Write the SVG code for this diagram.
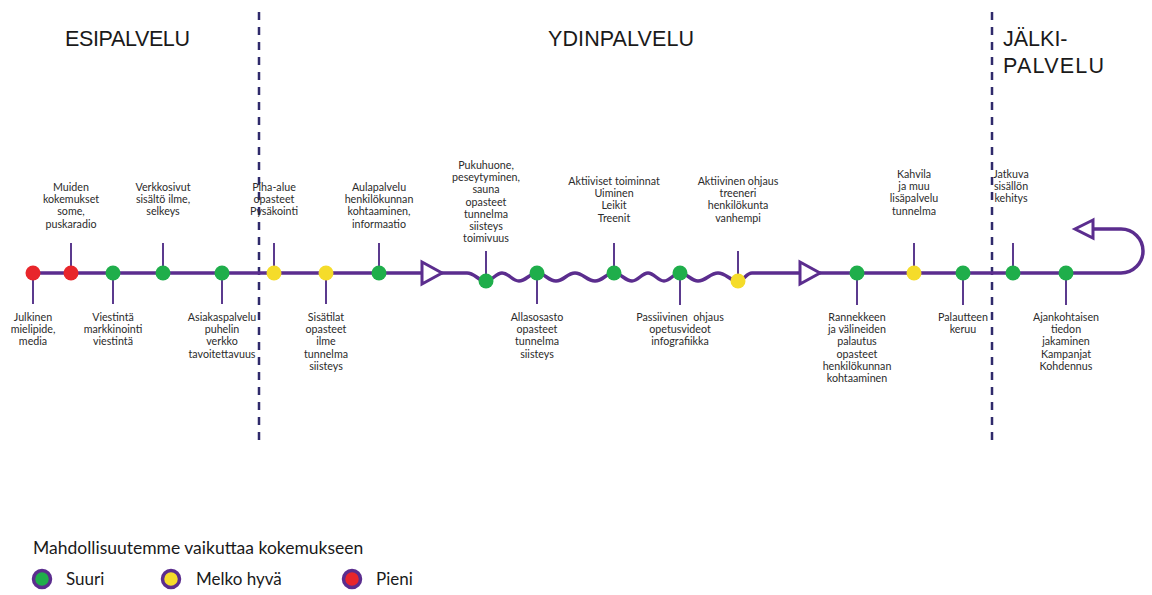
<svg xmlns="http://www.w3.org/2000/svg" width="1152" height="595" viewBox="0 0 1152 595">
  <defs>
    <style>
      .phase { font-family: "Liberation Sans", Arial, sans-serif; font-size: 21.5px; fill: #1a1a1a; }
      .lbl { font-family: Lato, "Noto Sans", "Liberation Sans", sans-serif; font-size: 10.7px; fill: #2b2b2b; text-anchor: middle; }
      .legend { font-family: Lato, "Noto Sans", "Liberation Sans", sans-serif; fill: #1a1a1a; }
      .divider { stroke: #2f2a6b; stroke-width: 2.5; stroke-dasharray: 8 7; fill: none; }
      .track { stroke: #5b2d8e; stroke-width: 3.5; fill: none; stroke-linejoin: round; }
      .tick { stroke: #5b3a8e; stroke-width: 2; }
      .head { stroke: #5b2d8e; stroke-width: 3; fill: #ffffff; stroke-linejoin: miter; }
      .g { fill: #1fae4b; }
      .y { fill: #f5dc2a; }
      .r { fill: #e8262b; }
      .key { stroke: #5b2d8e; stroke-width: 3.5; }
    </style>
  </defs>

  <rect width="1152" height="595" fill="#ffffff"/>

  <!-- phase dividers -->
  <line class="divider" x1="259" y1="12" x2="259" y2="440"/>
  <line class="divider" x1="992" y1="12" x2="992" y2="440"/>

  <!-- phase titles -->
  <text class="phase" x="65" y="46" textLength="125">ESIPALVELU</text>
  <text class="phase" x="548" y="46" textLength="146">YDINPALVELU</text>
  <text class="phase" x="1003" y="46">JÄLKI-</text>
  <text class="phase" x="1003" y="73" textLength="101">PALVELU</text>

  <!-- connectors: timeline track, direction arrows and ticks -->
  <g id="connectors">
    <path class="track" d="M33,273 H467
      C475,273 478,281 486,281
      C492,281 496,273 502,273
      C509,273 512,281 519,281
      C526,281 530,273 537,273
      C545,273 548,281 556,281
      C564,281 567,273 575,273
      C583,273 587,281 595,281
      C603,281 606,273 614,273
      C621,273 625,281 632,281
      C638,281 642,273 648,273
      C654,273 658,281 664,281
      C670,281 674,273 680,273
      C687,273 691,281 698,281
      C706,281 710,273 718,273
      C726,273 730,281 738,281
      C744,281 746,273 752,273
      H1121 A22,22 0 0 0 1121,229 H1093"/>
    <polygon class="head" points="422,262 442,273 422,284"/>
    <polygon class="head" points="800,262 820,273 800,284"/>
    <polygon class="head" points="1093,220 1075,229 1093,238"/>

    <!-- ticks up -->
    <line class="tick" x1="71" y1="243" x2="71" y2="273"/>
    <line class="tick" x1="163" y1="243" x2="163" y2="273"/>
    <line class="tick" x1="274" y1="243" x2="274" y2="273"/>
    <line class="tick" x1="379" y1="243" x2="379" y2="273"/>
    <line class="tick" x1="486" y1="251" x2="486" y2="281"/>
    <line class="tick" x1="614" y1="243" x2="614" y2="273"/>
    <line class="tick" x1="738" y1="251" x2="738" y2="281"/>
    <line class="tick" x1="914" y1="243" x2="914" y2="273"/>
    <line class="tick" x1="1013" y1="243" x2="1013" y2="273"/>
    <!-- ticks down -->
    <line class="tick" x1="33" y1="273" x2="33" y2="304"/>
    <line class="tick" x1="113" y1="273" x2="113" y2="304"/>
    <line class="tick" x1="222" y1="273" x2="222" y2="304"/>
    <line class="tick" x1="326" y1="273" x2="326" y2="304"/>
    <line class="tick" x1="537" y1="273" x2="537" y2="304"/>
    <line class="tick" x1="680" y1="273" x2="680" y2="305"/>
    <line class="tick" x1="857" y1="273" x2="857" y2="305"/>
    <line class="tick" x1="963" y1="273" x2="963" y2="305"/>
    <line class="tick" x1="1066" y1="273" x2="1066" y2="305"/>
  </g>

  <!-- touchpoints -->
  <g id="julkinen">
    <circle class="r" cx="33" cy="273" r="7.5"/>
    <text class="lbl" x="33" y="321">Julkinen<tspan x="33" dy="12.2">mielipide,</tspan><tspan x="33" dy="12.2">media</tspan></text>
  </g>
  <g id="muiden-kokemukset">
    <circle class="r" cx="71" cy="273" r="7.5"/>
    <text class="lbl" x="71" y="191">Muiden<tspan x="71" dy="12.2">kokemukset</tspan><tspan x="71" dy="12.2">some,</tspan><tspan x="71" dy="12.2">puskaradio</tspan></text>
  </g>
  <g id="viestinta">
    <circle class="g" cx="113" cy="273" r="7.5"/>
    <text class="lbl" x="113" y="321">Viestintä<tspan x="113" dy="12.2">markkinointi</tspan><tspan x="113" dy="12.2">viestintä</tspan></text>
  </g>
  <g id="verkkosivut">
    <circle class="g" cx="163" cy="273" r="7.5"/>
    <text class="lbl" x="163" y="191">Verkkosivut<tspan x="163" dy="12.2">sisältö ilme,</tspan><tspan x="163" dy="12.2">selkeys</tspan></text>
  </g>
  <g id="asiakaspalvelu">
    <circle class="g" cx="222" cy="273" r="7.5"/>
    <text class="lbl" x="222" y="321">Asiakaspalvelu<tspan x="222" dy="12.2">puhelin</tspan><tspan x="222" dy="12.2">verkko</tspan><tspan x="222" dy="12.2">tavoitettavuus</tspan></text>
  </g>
  <g id="piha-alue">
    <circle class="y" cx="274" cy="273" r="7.5"/>
    <text class="lbl" x="274" y="191">Piha-alue<tspan x="274" dy="12">opasteet</tspan><tspan x="274" dy="12">Pysäkointi</tspan></text>
  </g>
  <g id="sisatilat">
    <circle class="y" cx="326" cy="273" r="7.5"/>
    <text class="lbl" x="326" y="321">Sisätilat<tspan x="326" dy="12.2">opasteet</tspan><tspan x="326" dy="12.2">ilme</tspan><tspan x="326" dy="12.2">tunnelma</tspan><tspan x="326" dy="12.2">siisteys</tspan></text>
  </g>
  <g id="aulapalvelu">
    <circle class="g" cx="379" cy="273" r="7.5"/>
    <text class="lbl" x="379" y="191">Aulapalvelu<tspan x="379" dy="12.2">henkilökunnan</tspan><tspan x="379" dy="12.2">kohtaaminen,</tspan><tspan x="379" dy="12.2">informaatio</tspan></text>
  </g>
  <g id="pukuhuone">
    <circle class="g" cx="486" cy="281" r="7.5"/>
    <text class="lbl" x="486" y="169">Pukuhuone,<tspan x="486" dy="12.2">peseytyminen,</tspan><tspan x="486" dy="12.2">sauna</tspan><tspan x="486" dy="12.2">opasteet</tspan><tspan x="486" dy="12.2">tunnelma</tspan><tspan x="486" dy="12.2">siisteys</tspan><tspan x="486" dy="12.2">toimivuus</tspan></text>
  </g>
  <g id="allasosasto">
    <circle class="g" cx="537" cy="273" r="7.5"/>
    <text class="lbl" x="537" y="321">Allasosasto<tspan x="537" dy="12.2">opasteet</tspan><tspan x="537" dy="12.2">tunnelma</tspan><tspan x="537" dy="12.2">siisteys</tspan></text>
  </g>
  <g id="aktiiviset-toiminnat">
    <circle class="g" cx="614" cy="273" r="7.5"/>
    <text class="lbl" x="614" y="185">Aktiiviset toiminnat<tspan x="614" dy="12.2">Uiminen</tspan><tspan x="614" dy="12.2">Leikit</tspan><tspan x="614" dy="12.2">Treenit</tspan></text>
  </g>
  <g id="passiivinen-ohjaus">
    <circle class="g" cx="680" cy="273" r="7.5"/>
    <text class="lbl" x="680" y="321">Passiivinen&#160; ohjaus<tspan x="680" dy="12.2">opetusvideot</tspan><tspan x="680" dy="12.2">infografiikka</tspan></text>
  </g>
  <g id="aktiivinen-ohjaus">
    <circle class="y" cx="738" cy="281" r="7.5"/>
    <text class="lbl" x="738" y="185">Aktiivinen ohjaus<tspan x="738" dy="12.2">treeneri</tspan><tspan x="738" dy="12.2">henkilökunta</tspan><tspan x="738" dy="12.2">vanhempi</tspan></text>
  </g>
  <g id="rannekkeen-palautus">
    <circle class="g" cx="857" cy="273" r="7.5"/>
    <text class="lbl" x="857" y="321">Rannekkeen<tspan x="857" dy="12.2">ja välineiden</tspan><tspan x="857" dy="12.2">palautus</tspan><tspan x="857" dy="12.2">opasteet</tspan><tspan x="857" dy="12.2">henkilökunnan</tspan><tspan x="857" dy="12.2">kohtaaminen</tspan></text>
  </g>
  <g id="kahvila">
    <circle class="y" cx="914" cy="273" r="7.5"/>
    <text class="lbl" x="914" y="178">Kahvila<tspan x="914" dy="12.2">ja muu</tspan><tspan x="914" dy="12.2">lisäpalvelu</tspan><tspan x="914" dy="12.2">tunnelma</tspan></text>
  </g>
  <g id="palautteen-keruu">
    <circle class="g" cx="963" cy="273" r="7.5"/>
    <text class="lbl" x="963" y="321">Palautteen<tspan x="963" dy="12.2">keruu</tspan></text>
  </g>
  <g id="jatkuva-kehitys">
    <circle class="g" cx="1013" cy="273" r="7.5"/>
    <text class="lbl" x="1011" y="178">Jatkuva<tspan x="1011" dy="12.2">sisällön</tspan><tspan x="1011" dy="12.2">kehitys</tspan></text>
  </g>
  <g id="ajankohtainen-tieto">
    <circle class="g" cx="1066" cy="273" r="7.5"/>
    <text class="lbl" x="1066" y="321">Ajankohtaisen<tspan x="1066" dy="12.2">tiedon</tspan><tspan x="1066" dy="12.2">jakaminen</tspan><tspan x="1066" dy="12.2">Kampanjat</tspan><tspan x="1066" dy="12.2">Kohdennus</tspan></text>
  </g>

  <!-- legend -->
  <g id="legend">
    <text class="legend" x="33" y="554" font-size="17.5">Mahdollisuutemme vaikuttaa kokemukseen</text>
    <circle class="g key" cx="42" cy="579" r="8.5"/>
    <text class="legend" x="66" y="585" font-size="17">Suuri</text>
    <circle class="y key" cx="171" cy="579" r="8.5"/>
    <text class="legend" x="196" y="585" font-size="17">Melko hyvä</text>
    <circle class="r key" cx="352" cy="579" r="8.5"/>
    <text class="legend" x="376" y="585" font-size="17">Pieni</text>
  </g>
</svg>
